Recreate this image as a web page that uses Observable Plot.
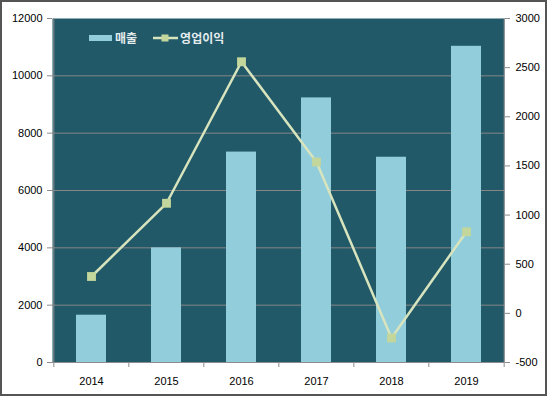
<!DOCTYPE html>
<html><head><meta charset="utf-8">
<script src="https://cdn.jsdelivr.net/npm/d3@7"></script>
<script src="https://cdn.jsdelivr.net/npm/@observablehq/plot@0.6"></script>
<style>
body{margin:0;background:#fff;}
#wrap{position:relative;width:550px;height:397px;overflow:hidden;}
#frame{position:absolute;left:0;top:0;width:547px;height:396px;box-sizing:border-box;border:2px solid #555;pointer-events:none;}
#legend{position:absolute;left:89px;top:29px;height:17px;display:flex;align-items:center;font-family:"Noto Sans CJK KR","Noto Sans",sans-serif;font-weight:bold;font-size:12px;color:#e4ecee;white-space:nowrap;}
#legend .bar{display:inline-block;width:23px;height:6px;margin-right:3px;}
#legend svg{margin-left:16px;margin-right:2px;}
</style></head><body>
<div id="wrap"><div id="chart"></div><div id="legend"></div><div id="frame"></div></div>
<script>
const years = ["2014","2015","2016","2017","2018","2019"];
const sales = [1650, 4000, 7340, 9230, 7160, 11030];
const profit = [375, 1120, 2560, 1540, -250, 830];
const leftTicks = [0, 2000, 4000, 6000, 8000, 10000, 12000];
const rightTicks = [-500, 0, 500, 1000, 1500, 2000, 2500, 3000];
const seriesNames = ["매출", "영업이익"];
const colors = {bg: "#215968", bar: "#92CDDC", line: "#D7E4BD", marker: "#C3D69B", grid: "#868686", axis: "#8c8c8c", text: "#000"};

const W = 550, H = 397, ML = 52, MR = 46, MT = 18, MB = 35;
const lMin = leftTicks[0], lMax = leftTicks[leftTicks.length - 1];
const rMin = rightTicks[0], rMax = rightTicks[rightTicks.length - 1];
const toLeft = v => lMin + (v - rMin) * (lMax - lMin) / (rMax - rMin);
const fromLeft = v => rMin + (v - lMin) * (rMax - rMin) / (lMax - lMin);
const step = (W - ML - MR) / years.length;

const data = years.map((y, i) => ({year: y, sales: sales[i], profit: profit[i]}));

const chart = Plot.plot({
  width: W, height: H,
  marginLeft: ML, marginRight: MR, marginTop: MT, marginBottom: MB,
  style: {fontFamily: "'Liberation Sans', Arial, sans-serif", fontSize: "11px", background: "transparent", color: colors.text},
  x: {type: "band", domain: years, paddingInner: 0.6, paddingOuter: 0.3},
  y: {domain: [lMin, lMax]},
  marks: [
    Plot.frame({fill: colors.bg, stroke: null}),
    Plot.ruleY(leftTicks.filter(d => d > lMin && d < lMax), {stroke: colors.grid, strokeWidth: 1}),
    Plot.barY(data, {x: "year", y: "sales", fill: colors.bar}),
    Plot.ruleY([lMin], {stroke: colors.axis}),
    Plot.ruleX([years[0]], {x: d => d, dx: -step / 2, stroke: colors.axis}),
    Plot.ruleX([years[years.length - 1]], {x: d => d, dx: step / 2, stroke: colors.axis}),
    Plot.ruleX(years, {x: d => d, dx: -step / 2, stroke: colors.axis, insetTop: H - MT - MB, insetBottom: -5}),
    Plot.ruleX([years[years.length - 1]], {x: d => d, dx: step / 2, stroke: colors.axis, insetTop: H - MT - MB, insetBottom: -5}),
    Plot.line(data, {x: "year", y: d => toLeft(d.profit), stroke: colors.line, strokeWidth: 2.5}),
    Plot.dot(data, {x: "year", y: d => toLeft(d.profit), symbol: "square", fill: colors.marker, stroke: null, r: 5}),
    Plot.axisY({ticks: leftTicks, tickSize: 5, tickPadding: 5, stroke: colors.axis, fill: colors.text, label: null, tickFormat: d => String(d)}),
    Plot.axisY({anchor: "right", ticks: rightTicks.map(toLeft), tickSize: 5, tickPadding: 6, stroke: colors.axis, fill: colors.text, label: null, tickFormat: d => String(Math.round(fromLeft(d)))}),
    Plot.axisX({tickSize: 0, tickPadding: 15, fill: colors.text, label: null})
  ]
});
document.getElementById("chart").append(chart);

const lg = document.getElementById("legend");
lg.innerHTML =
  `<span class="bar" style="background:${colors.bar}"></span><span>${seriesNames[0]}</span>` +
  `<svg width="25" height="10"><line x1="0" y1="5" x2="25" y2="5" stroke="${colors.line}" stroke-width="2.5"/><rect x="8.5" y="1.5" width="7" height="7" fill="${colors.marker}"/></svg><span>${seriesNames[1]}</span>`;
</script>
</body></html>
